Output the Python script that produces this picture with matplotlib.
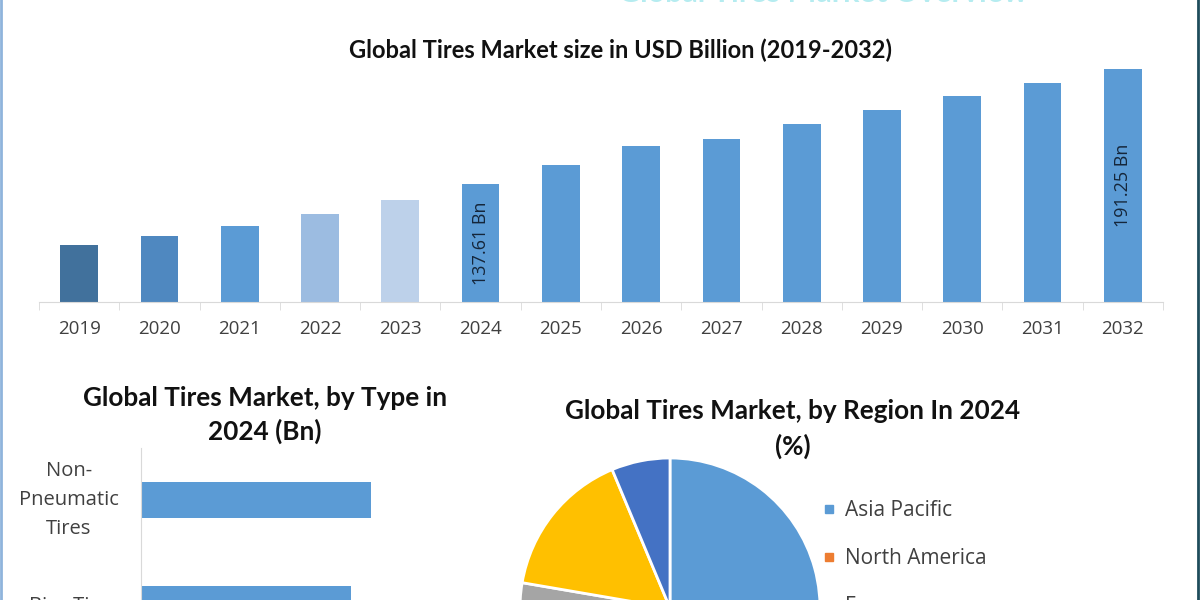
import matplotlib.pyplot as plt
from matplotlib.lines import Line2D

# top chart: market size per year (Bn)
years = ["2019", "2020", "2021", "2022", "2023", "2024", "2025",
         "2026", "2027", "2028", "2029", "2030", "2031", "2032"]
market_size = [109.2, 113.4, 118.0, 123.6, 130.2, 137.61, 146.5,
               155.3, 158.6, 165.6, 172.1, 178.7, 184.7, 191.25]
bar_labels = {"2024": "137.61 Bn", "2032": "191.25 Bn"}

# bottom left: by type
tire_types = ["Non-\nPneumatic\nTires", "Bias Tires"]
type_values = [25.6, 23.4]

# bottom right: by region (%)
regions = ["Asia Pacific", "North America", "Europe",
           "Middle East and Africa", "South America"]
region_share = [41.5, 22.0, 14.2, 16.0, 6.3]

bar_colors = ["#41719c", "#4f88c0", "#5b9bd5", "#9cbce1", "#bdd1ea"] + ["#5b9bd5"] * 9
pie_colors = ["#5b9bd5", "#ed7d31", "#a5a5a5", "#ffc000", "#4472c4"]

BODY = "Open Sans"
HEAD = "Lato"

fig = plt.figure(figsize=(12, 6), dpi=100)

# faint cut-off header at the very top
fig.text(0.686, 1.011, "Global Tires Market Overview", ha="center", va="center",
         fontsize=22, fontweight="bold", family=HEAD, color="#b5ecf0")

# ---- top bar chart
ax = fig.add_axes([39 / 1200, 0.4967, 1124 / 1200, 242 / 600])
x = range(len(years))
ax.bar(x, market_size, width=0.47, color=bar_colors)
ax.set_xlim(-0.5, len(years) - 0.5)
ax.set_ylim(82.6, 195.5)
for i, yr in enumerate(years):
    if yr in bar_labels:
        mid = (82.6 + market_size[i]) / 2
        ax.text(i, mid, bar_labels[yr], rotation=90, ha="center", va="center",
                fontsize=13, family=BODY, color="#15263a")
ax.set_xticks(list(x))
ax.set_xticklabels(years, family=BODY, fontsize=13.5, color="#404040")
ax.set_xticks([i - 0.5 for i in range(len(years) + 1)], minor=True)
ax.tick_params(axis="x", which="major", length=0, pad=13)
ax.tick_params(axis="x", which="minor", length=6, color="#d9d9d9")
ax.set_yticks([])
for s in ["left", "top", "right"]:
    ax.spines[s].set_visible(False)
ax.spines["bottom"].set_color("#d9d9d9")
fig.text(620 / 1200, 1 - 50 / 600, "Global Tires Market size in USD Billion (2019-2032)",
         ha="center", va="center", fontsize=17, fontweight="bold", family=HEAD,
         color="#111111")

# ---- bottom left horizontal bars
ax2 = fig.add_axes([141 / 1200, -0.0933, 359 / 1200, 208 / 600])
ax2.barh(range(len(tire_types)), type_values, height=0.35, color="#5b9bd5")
ax2.set_ylim(1.5, -0.5)
ax2.set_xlim(0, 40)
ax2.set_yticks(range(len(tire_types)))
ax2.set_yticklabels(tire_types, family=BODY, fontsize=14.5, color="#404040",
                    multialignment="center", linespacing=1.62, va="center")
# single-line label sits on the baseline like the reference
ax2.get_yticklabels()[1].set_va("center_baseline")
ax2.tick_params(axis="y", length=0, pad=16)
ax2.set_xticks([])
for s in ["bottom", "top", "right"]:
    ax2.spines[s].set_visible(False)
ax2.spines["left"].set_color("#d9d9d9")
fig.text(265 / 1200, 1 - 415 / 600, "Global Tires Market, by Type in\n2024 (Bn)",
         ha="center", va="center", fontsize=18.8, fontweight="bold", family=HEAD,
         color="#111111", linespacing=1.4)

# ---- bottom right pie
ax3 = fig.add_axes([520 / 1200, (600 - 758) / 600, 300 / 1200, 300 / 600])
ax3.pie(region_share, colors=pie_colors, startangle=90, counterclock=False,
        radius=1, wedgeprops={"edgecolor": "white", "linewidth": 2})
ax3.set_xlim(-1, 1)
ax3.set_ylim(-1, 1)
fig.text(793 / 1200, 1 - 429 / 600, "Global Tires Market, by Region In 2024\n(%)",
         ha="center", va="center", fontsize=18.8, fontweight="bold", family=HEAD,
         color="#111111", linespacing=1.55)
handles = [Line2D([], [], marker="s", linestyle="none", markersize=6,
                  color=c) for c in pie_colors]
fig.legend(handles, regions, loc="upper left",
           bbox_to_anchor=(823 / 1200, (600 - 500) / 600),
           bbox_transform=fig.transFigure, frameon=False, borderpad=0,
           borderaxespad=0, handlelength=0.6, handletextpad=0.45,
           labelspacing=1.3, prop={"family": BODY, "size": 15},
           labelcolor="#404040")

# frame edges of the infographic
fig.add_artist(Line2D([0.001, 0.001], [0, 1], color="#8fb4dc", linewidth=2))
fig.add_artist(Line2D([0.998, 0.998], [0, 1], color="#1f4d5c", linewidth=2))

fig.savefig("out.png")
